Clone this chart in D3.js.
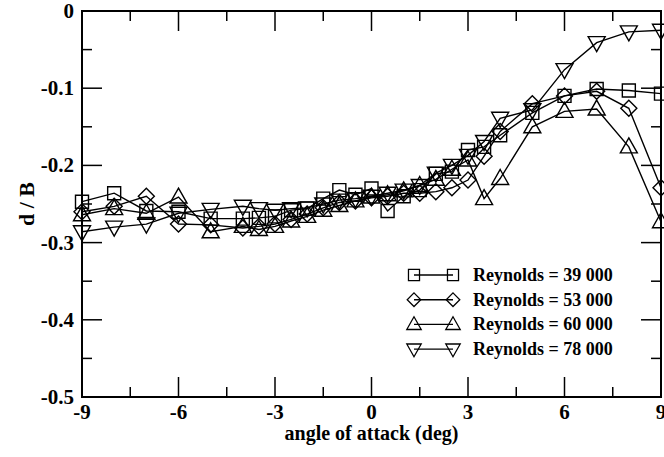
<!DOCTYPE html>
<html>
<head>
<meta charset="utf-8">
<script src="https://cdn.jsdelivr.net/npm/d3@7"></script>
<style>
  body { margin: 0; background: #fff; }
  svg text { font-family: "Liberation Serif", "Tinos", "Nimbus Roman", "DejaVu Serif", serif; font-weight: 700; }
</style>
</head>
<body>
<div id="chart"></div>
<script>
// angle of attack (deg)
var angles = [-9, -8, -7, -6, -5, -4, -3.5, -3, -2.5, -2, -1.5, -1, -0.5, 0, 0.5, 1, 1.5, 2, 2.5, 3, 3.5, 4, 5, 6, 7, 8, 9];

// d / B for each Reynolds number
var re39000 = [-0.247, -0.236, -0.259, -0.260, -0.269, -0.269, -0.268, -0.266, -0.258, -0.256, -0.243, -0.232, -0.238, -0.230, -0.259, -0.240, -0.232, -0.211, -0.208, -0.180, -0.176, -0.161, -0.132, -0.110, -0.101, -0.103, -0.107];
var re53000 = [-0.260, -0.253, -0.240, -0.276, -0.277, -0.281, -0.279, -0.276, -0.270, -0.263, -0.255, -0.248, -0.246, -0.242, -0.240, -0.236, -0.236, -0.234, -0.229, -0.219, -0.188, -0.156, -0.120, -0.110, -0.104, -0.126, -0.229];
var re60000 = [-0.264, -0.256, -0.262, -0.241, -0.286, -0.279, -0.283, -0.279, -0.272, -0.266, -0.258, -0.252, -0.246, -0.241, -0.238, -0.233, -0.226, -0.218, -0.205, -0.193, -0.243, -0.217, -0.150, -0.130, -0.127, -0.176, -0.273];
var re78000 = [-0.286, -0.280, -0.276, -0.262, -0.257, -0.253, -0.256, -0.258, -0.256, -0.255, -0.250, -0.245, -0.243, -0.240, -0.236, -0.232, -0.226, -0.210, -0.200, -0.187, -0.169, -0.139, -0.128, -0.076, -0.041, -0.027, -0.025];

var legendLabels = ["Reynolds = 39 000", "Reynolds = 53 000", "Reynolds = 60 000", "Reynolds = 78 000"];
var xTicks = [-9, -6, -3, 0, 3, 6, 9];
var yTicks = [0, -0.1, -0.2, -0.3, -0.4, -0.5];

var W = 664, H = 457;
var margin = {top: 11, right: 3, bottom: 60, left: 82},
    width = W - margin.left - margin.right,
    height = H - margin.top - margin.bottom;

var svg = d3.select("#chart")
  .append("svg")
    .attr("width", W)
    .attr("height", H);

var g = svg.append("g")
    .attr("transform", "translate(" + margin.left + "," + margin.top + ")");

var x = d3.scaleLinear().domain([-9, 9]).range([0, width]);
var y = d3.scaleLinear().domain([-0.5, 0]).range([height, 0]);

// symbols, drawn around (0,0), unfilled
function symbolPath(kind) {
  if (kind == "square") return "M-6.5,-6.5H6.5V6.5H-6.5Z";
  if (kind == "diamond") return "M0,-8L8,0L0,8L-8,0Z";
  if (kind == "up") return "M0,-9L8.5,6L-8.5,6Z";
  return "M0,9L8.5,-6L-8.5,-6Z";
}

var series = [
  {values: re39000, sym: "square"},
  {values: re53000, sym: "diamond"},
  {values: re60000, sym: "up"},
  {values: re78000, sym: "down"}
];

// ticks (inside, on all four sides)
var majorLen = 20, minorLen = 10;
var xMinor = d3.range(-7.5, 9, 3);
var yMinor = d3.range(-0.45, 0, 0.1);

var tk = g.append("g").attr("stroke", "#000").attr("stroke-width", 1.5);
xTicks.forEach(function(v) {
  tk.append("line").attr("x1", x(v)).attr("x2", x(v)).attr("y1", height).attr("y2", height - majorLen);
  tk.append("line").attr("x1", x(v)).attr("x2", x(v)).attr("y1", 0).attr("y2", majorLen);
});
xMinor.forEach(function(v) {
  tk.append("line").attr("x1", x(v)).attr("x2", x(v)).attr("y1", height).attr("y2", height - minorLen);
  tk.append("line").attr("x1", x(v)).attr("x2", x(v)).attr("y1", 0).attr("y2", minorLen);
});
yTicks.forEach(function(v) {
  tk.append("line").attr("y1", y(v)).attr("y2", y(v)).attr("x1", 0).attr("x2", majorLen);
  tk.append("line").attr("y1", y(v)).attr("y2", y(v)).attr("x1", width).attr("x2", width - majorLen);
});
yMinor.forEach(function(v) {
  tk.append("line").attr("y1", y(v)).attr("y2", y(v)).attr("x1", 0).attr("x2", minorLen);
  tk.append("line").attr("y1", y(v)).attr("y2", y(v)).attr("x1", width).attr("x2", width - minorLen);
});

// frame
g.append("rect")
  .attr("width", width).attr("height", height)
  .attr("fill", "none").attr("stroke", "#000").attr("stroke-width", 2);

// tick labels
g.selectAll(".xl").data(xTicks).enter().append("text")
  .attr("x", function(d) { return x(d); })
  .attr("y", height + 22)
  .attr("text-anchor", "middle")
  .attr("font-size", 21)
  .text(function(d) { return d; });

g.selectAll(".yl").data(yTicks).enter().append("text")
  .attr("x", -8)
  .attr("y", function(d) { return y(d) + 7; })
  .attr("text-anchor", "end")
  .attr("font-size", 21)
  .text(function(d) { return d == 0 ? "0" : d.toFixed(1); });

// axis titles
g.append("text")
  .attr("x", width / 2)
  .attr("y", height + 43)
  .attr("text-anchor", "middle")
  .attr("font-size", 20)
  .text("angle of attack (deg)");

svg.append("text")
  .attr("transform", "translate(34," + (margin.top + height / 2) + ") rotate(-90)")
  .attr("text-anchor", "middle")
  .attr("font-size", 22)
  .text("d / B");

// the lines and symbols
var line = d3.line()
  .x(function(d) { return x(d[0]); })
  .y(function(d) { return y(d[1]); });

series.forEach(function(s) {
  var pts = angles.map(function(a, i) { return [a, s.values[i]]; });
  g.append("path")
    .datum(pts)
    .attr("fill", "none")
    .attr("stroke", "#000")
    .attr("stroke-width", 1.4)
    .attr("d", line);
  g.selectAll(null).data(pts).enter().append("path")
    .attr("transform", function(d) { return "translate(" + x(d[0]) + "," + y(d[1]) + ")"; })
    .attr("d", symbolPath(s.sym))
    .attr("fill", "none")
    .attr("stroke", "#000")
    .attr("stroke-width", 1.4);
});

// legend
var leg = svg.append("g");
var legX1 = 414, legX2 = 453, legY0 = 275, legDy = 24.7;
series.forEach(function(s, i) {
  var ly = legY0 + i * legDy;
  leg.append("line")
    .attr("x1", legX1).attr("x2", legX2).attr("y1", ly).attr("y2", ly)
    .attr("stroke", "#000").attr("stroke-width", 1.4);
  [legX1, legX2].forEach(function(lx) {
    leg.append("path")
      .attr("transform", "translate(" + lx + "," + ly + ") scale(0.85)")
      .attr("d", symbolPath(s.sym))
      .attr("fill", "none")
      .attr("stroke", "#000")
      .attr("stroke-width", 1.5);
  });
  leg.append("text")
    .attr("x", 473)
    .attr("y", ly + 6)
    .attr("font-size", 18)
    .text(legendLabels[i]);
});
</script>
</body>
</html>
